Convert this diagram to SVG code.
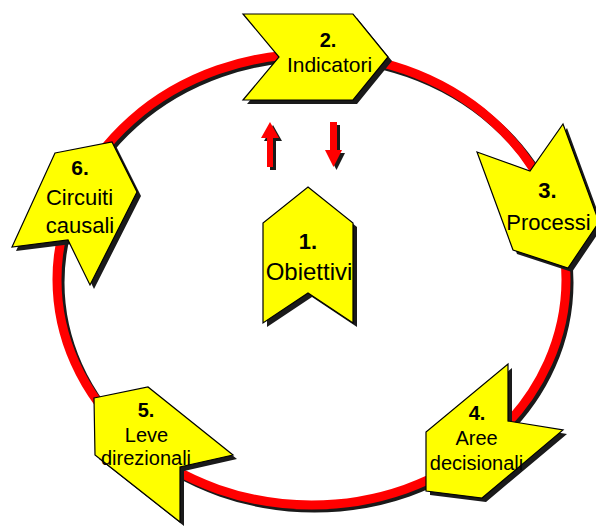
<svg xmlns="http://www.w3.org/2000/svg" width="596" height="529" viewBox="0 0 596 529">
  <style>
    .ring { fill: none; stroke: #ff0000; stroke-width: 9; }
    .ring-shadow { fill: none; stroke: #1a1a1a; stroke-width: 9; }
    .shadow { fill: #1a1a1a; stroke: none; }
    .chev { fill: #ffff00; stroke: #000; stroke-width: 1.2; stroke-linejoin: miter; }
    .arrow { fill: #ff0000; stroke: none; }
    text { font-family: "Liberation Sans", Arial, sans-serif; fill: #000; text-anchor: middle; }
    .num { font-weight: bold; }
  </style>

  <!-- cycle ring and the two vertical arrows -->
  <g id="connectors">
    <ellipse class="ring-shadow" cx="314.5" cy="282.5" rx="254.5" ry="225.5"/>
    <ellipse class="ring" cx="311.5" cy="279.5" rx="254.5" ry="225.5"/>
    <g id="arrow-up">
      <polygon class="shadow" transform="translate(3,3)" points="270,122 279,138 273,138 273,167 267,167 267,138 261,138"/>
      <polygon class="arrow" points="270,122 279,138 273,138 273,167 267,167 267,138 261,138"/>
    </g>
    <g id="arrow-down">
      <polygon class="shadow" transform="translate(3,3)" points="330,122 337,122 337,150 342,150 333.5,167 325,150 330,150"/>
      <polygon class="arrow" points="330,122 337,122 337,150 342,150 333.5,167 325,150 330,150"/>
    </g>
  </g>

  <g id="node-1">
    <polygon class="shadow" transform="translate(4,4)" points="308,187 353,223 353,323 308,293 263,323 263,223"/>
    <polygon class="chev" points="308,187 353,223 353,323 308,293 263,323 263,223"/>
    <text class="num" x="308" y="249" font-size="22">1.</text>
    <text x="309" y="280" font-size="24">Obiettivi</text>
  </g>

  <g id="node-2">
    <polygon class="shadow" transform="translate(4,4)" points="243,14 353,14 388,57 353,100 243,100 279,57"/>
    <polygon class="chev" points="243,14 353,14 388,57 353,100 243,100 279,57"/>
    <text class="num" x="328" y="47" font-size="20">2.</text>
    <text x="329.5" y="72" font-size="21">Indicatori</text>
  </g>

  <g id="node-3">
    <polygon class="shadow" transform="translate(4,4)" points="477,152 530,171 563,124 599,222 568,268 513,250"/>
    <polygon class="chev" points="477,152 530,171 563,124 599,222 568,268 513,250"/>
    <text class="num" x="547.5" y="198" font-size="22">3.</text>
    <text x="548.5" y="230" font-size="22">Processi</text>
  </g>

  <g id="node-4">
    <polygon class="shadow" transform="translate(4,4)" points="508,364 508,421 563,430 482,498 426,491 426,432"/>
    <polygon class="chev" points="508,364 508,421 563,430 482,498 426,491 426,432"/>
    <text class="num" x="477" y="420" font-size="20">4.</text>
    <text x="476.5" y="445" font-size="20">Aree</text>
    <text x="476.5" y="470" font-size="20">decisionali</text>
  </g>

  <g id="node-5">
    <polygon class="shadow" transform="translate(4,4)" points="94,398 148,387 233,455 180,467 180,522 95,455"/>
    <polygon class="chev" points="94,398 148,387 233,455 180,467 180,522 95,455"/>
    <text class="num" x="146" y="417" font-size="20">5.</text>
    <text x="146.5" y="442" font-size="20">Leve</text>
    <text x="146" y="465" font-size="20">direzionali</text>
  </g>

  <g id="node-6">
    <polygon class="shadow" transform="translate(4,4)" points="55,153 112,142 137,192 90,285 68,240 12,247"/>
    <polygon class="chev" points="55,153 112,142 137,192 90,285 68,240 12,247"/>
    <text class="num" x="80" y="175" font-size="21">6.</text>
    <text x="79.5" y="205" font-size="22">Circuiti</text>
    <text x="80" y="233" font-size="22">causali</text>
  </g>
</svg>
